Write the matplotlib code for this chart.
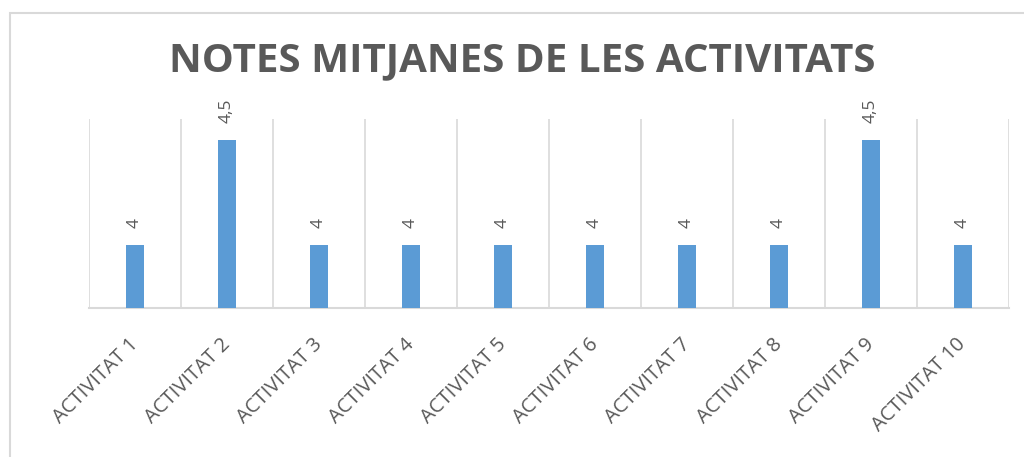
import matplotlib.pyplot as plt
from matplotlib.patches import Rectangle

categories = ['ACTIVITAT 1', 'ACTIVITAT 2', 'ACTIVITAT 3', 'ACTIVITAT 4', 'ACTIVITAT 5',
              'ACTIVITAT 6', 'ACTIVITAT 7', 'ACTIVITAT 8', 'ACTIVITAT 9', 'ACTIVITAT 10']
notes = [4, 4.5, 4, 4, 4, 4, 4, 4, 4.5, 4]
etiquetes = ['4', '4,5', '4', '4', '4', '4', '4', '4', '4,5', '4']

gris = '#595959'
gris_clar = '#D9D9D9'
blau = '#5B9BD5'

plt.rcParams['font.family'] = ['Open Sans', 'DejaVu Sans']

fig = plt.figure(figsize=(10.24, 4.57), dpi=100)
# marc del gràfic (retallat a la dreta i a baix)
fig.patches.append(Rectangle((9.5 / 1024, -0.1), 1.2, (457 - 13.5) / 457 + 0.1,
                             transform=fig.transFigure, fill=False,
                             edgecolor=gris_clar, linewidth=1.5))

ax = fig.add_axes([89 / 1024, (457 - 308) / 457, 920 / 1024, 189 / 457])
x = range(len(categories))
ax.bar(x, notes, width=0.185, color=blau, zorder=3)

ax.set_xlim(-0.5, len(categories) - 0.5)
ax.set_ylim(3.7, 4.6)

# línies verticals entre categories
for i in range(len(categories) + 1):
    ax.axvline(i - 0.5, color=gris_clar, linewidth=1.2, zorder=1)

for s in ['top', 'right', 'left']:
    ax.spines[s].set_visible(False)
ax.spines['bottom'].set_color(gris_clar)
ax.spines['bottom'].set_linewidth(1.5)
ax.set_yticks([])
ax.set_xticks(list(x))
ax.set_xticklabels(categories, rotation=45, ha='right', va='center',
                   rotation_mode='anchor', color=gris, fontsize=14.5)
ax.tick_params(axis='x', length=0, pad=24)

for xi, v, t in zip(x, notes, etiquetes):
    ax.annotate(t, (xi, v), xytext=(0, 12), textcoords='offset points',
                rotation=90, ha='center', va='bottom', color=gris, fontsize=12.5)

fig.text(0.51, 0.866, 'NOTES MITJANES DE LES ACTIVITATS', ha='center', va='center',
         fontsize=29, fontweight='bold', color=gris)

fig.savefig('out.png', dpi=100)
